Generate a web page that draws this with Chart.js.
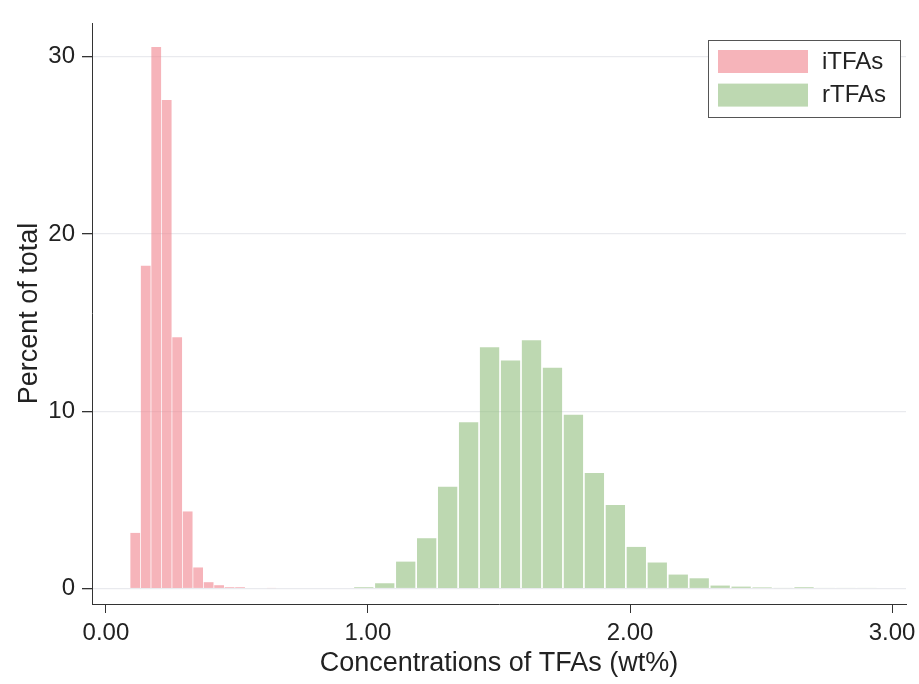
<!DOCTYPE html>
<html lang="en">
<head>
    <meta charset="UTF-8">
    <title>TFAs histogram</title>
    <script src="https://cdn.jsdelivr.net/npm/chart.js"></script>
    <style>
        body { margin: 0; background: #fff; }
        #chart-container { width: 919px; height: 684px; }
    </style>
</head>
<body>
    <div id="chart-container">
        <canvas id="tfaChart"></canvas>
    </div>
    <script>
        // bin centres (wt%) and percent of total
        const iTFABins = [0.112, 0.152, 0.192, 0.232, 0.272, 0.312, 0.352, 0.392, 0.432, 0.472, 0.512, 0.552, 0.592, 0.632];
        const iTFAPct  = [3.14, 18.21, 30.55, 27.56, 14.18, 4.35, 1.19, 0.36, 0.19, 0.08, 0.08, 0, 0, 0.03];

        const rTFABins = [0.984, 1.064, 1.144, 1.224, 1.304, 1.384, 1.464, 1.544, 1.624, 1.704, 1.784, 1.864, 1.944,
                          2.024, 2.104, 2.184, 2.264, 2.344, 2.424, 2.504, 2.584, 2.664, 2.744, 2.824, 2.904];
        const rTFAPct  = [0.08, 0.30, 1.52, 2.84, 5.75, 9.38, 13.61, 12.86, 14.00, 12.46, 9.80, 6.52, 4.72,
                          2.35, 1.47, 0.79, 0.58, 0.17, 0.11, 0.07, 0.03, 0.08, 0.04, 0.04, 0.04];

        const xTicks = [0, 1, 2, 3];
        const yTicks = [0, 10, 20, 30];

        const FONT = '"Liberation Sans", Arial, sans-serif';
        const X_MIN = -0.053, X_MAX = 3.053;

        const setTicks = vals => scale => { scale.ticks = vals.map(v => ({ value: v })); };

        // legend drawn inside the plot, top right, with a frame
        const boxLegend = {
            id: 'boxLegend',
            afterDraw(chart) {
                const { ctx, chartArea } = chart;
                const w = 192, h = 77;
                const left = chartArea.right - 6 - w;
                const top = chartArea.top + 17;
                ctx.save();
                ctx.fillStyle = '#fff';
                ctx.fillRect(left, top, w, h);
                ctx.strokeStyle = '#555';
                ctx.lineWidth = 1;
                ctx.strokeRect(left + 0.5, top + 0.5, w, h);
                ctx.font = '24px ' + FONT;
                ctx.textBaseline = 'middle';
                chart.data.datasets.forEach((ds, i) => {
                    const y = top + 10 + i * 33.6;
                    ctx.fillStyle = ds.backgroundColor;
                    ctx.fillRect(left + 10, y, 90, 23);
                    ctx.fillStyle = '#222';
                    ctx.fillText(ds.label, left + 114, y + 12);
                });
                ctx.restore();
            }
        };

        const hiddenX = {
            type: 'linear', display: false, min: X_MIN, max: X_MAX, offset: false,
            grid: { offset: false },
            afterBuildTicks: setTicks(xTicks)
        };

        new Chart(document.getElementById('tfaChart'), {
            type: 'bar',
            data: {
                datasets: [{
                    label: 'iTFAs',
                    data: iTFABins.map((x, i) => ({ x, y: iTFAPct[i] })),
                    xAxisID: 'xi',
                    backgroundColor: 'rgba(240, 130, 140, 0.6)',
                    borderWidth: 0,
                    grouped: false,
                    categoryPercentage: 1,
                    barPercentage: 0.93
                }, {
                    label: 'rTFAs',
                    data: rTFABins.map((x, i) => ({ x, y: rTFAPct[i] })),
                    xAxisID: 'xr',
                    backgroundColor: 'rgba(145, 190, 125, 0.6)',
                    borderWidth: 0,
                    grouped: false,
                    categoryPercentage: 1,
                    barPercentage: 0.92
                }]
            },
            options: {
                responsive: true,
                maintainAspectRatio: false,
                animation: false,
                layout: { padding: { top: 23, right: 13, left: 0, bottom: 0 } },
                plugins: {
                    legend: { display: false },
                    tooltip: { enabled: false }
                },
                scales: {
                    x: {
                        type: 'linear', position: 'bottom', min: X_MIN, max: X_MAX, offset: false,
                        afterBuildTicks: setTicks(xTicks),
                        afterFit: scale => {
                            scale.height = 80;
                            scale.paddingLeft = 0;
                            scale.paddingRight = 0;
                        },
                        grid: { offset: false, drawOnChartArea: false, tickColor: '#333', tickLength: 9, lineWidth: 1 },
                        border: { color: '#333', width: 1 },
                        ticks: {
                            font: { family: FONT, size: 24 }, color: '#222', padding: 6,
                            maxRotation: 0,
                            callback: v => v.toFixed(2)
                        },
                        title: {
                            display: true, text: 'Concentrations of TFAs (wt%)', color: '#222',
                            font: { family: FONT, size: 27 }, padding: { top: 0, bottom: 4 }
                        }
                    },
                    xi: hiddenX,
                    xr: hiddenX,
                    y: {
                        type: 'linear', min: -0.87, max: 31.9,
                        afterBuildTicks: setTicks(yTicks),
                        afterFit: scale => { scale.width = 92; },
                        grid: { color: '#e9eaee', lineWidth: 1.3, tickColor: '#333', tickLength: 10 },
                        border: { color: '#333', width: 1 },
                        ticks: { font: { family: FONT, size: 24 }, color: '#222', padding: 7 },
                        title: {
                            display: true, text: 'Percent of total', color: '#222',
                            font: { family: FONT, size: 27 }, padding: { top: 13, bottom: 0 }
                        }
                    }
                }
            },
            plugins: [boxLegend]
        });
    </script>
</body>
</html>
